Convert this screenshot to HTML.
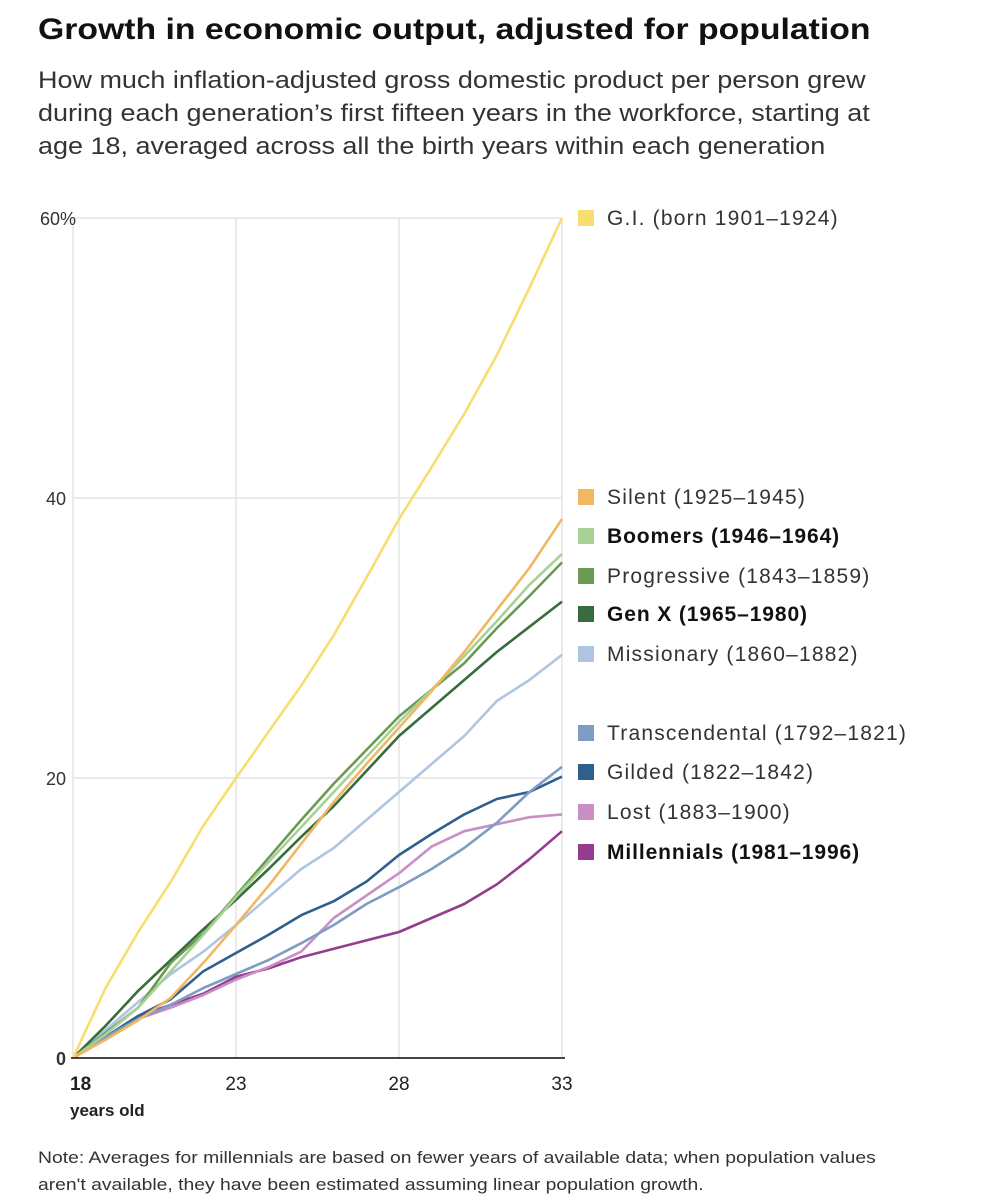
<!DOCTYPE html>
<html><head><meta charset="utf-8"><style>
body{margin:0;background:#fff;font-family:"Liberation Sans",sans-serif;color:#222;}
#wrap{position:relative;width:989px;height:1200px;overflow:hidden;}
h1{position:absolute;left:38px;top:13px;margin:0;font-size:30px;font-weight:bold;color:#111;transform:scaleX(1.125);transform-origin:left top;white-space:nowrap}
.sub{position:absolute;left:38px;top:64px;font-size:24px;line-height:33px;color:#333;white-space:nowrap;transform:scaleX(1.124);transform-origin:left top}
.note{position:absolute;left:38px;top:1144px;font-size:17px;line-height:27px;color:#333;white-space:nowrap;transform:scaleX(1.137);transform-origin:left top}
svg text{font-family:"Liberation Sans",sans-serif}
</style></head><body>
<div id="wrap">
<h1>Growth in economic output, adjusted for population</h1>
<div class="sub">How much inflation-adjusted gross domestic product per person grew<br>during each generation’s first fifteen years in the workforce, starting at<br>age 18, averaged across all the birth years within each generation</div>
<svg id="chart" width="989" height="1200" style="position:absolute;left:0;top:0"></svg>
<div class="note">Note: Averages for millennials are based on fewer years of available data; when population values<br>aren't available, they have been estimated assuming linear population growth.</div>
</div>
<script>
const ages=[18,19,20,21,22,23,24,25,26,27,28,29,30,31,32,33];
const yTicks=[0,20,40,60];
const xTicks=[18,23,28,33];
const names=["G.I. (born 1901–1924)","Silent (1925–1945)","Boomers (1946–1964)","Progressive (1843–1859)","Gen X (1965–1980)","Missionary (1860–1882)","Transcendental (1792–1821)","Gilded (1822–1842)","Lost (1883–1900)","Millennials (1981–1996)"];
const colors=["#f8de6e","#f0b862","#a8d196","#6b9b50","#386c3e","#afc5e1","#7e9cc4","#2f5f8d","#c98ec5","#943c8d"];
const bold=[false,false,true,false,true,false,false,false,false,true];
const legendY=[218,497,536,576,614,654,733,772,812,852];
const gi=[0,5,9,12.6,16.6,20,23.3,26.6,30.2,34.3,38.5,42.2,46,50.2,55,60];
const silent=[0,1.3,2.7,4.3,6.8,9.5,12.3,15.3,18.3,21,23.6,26.2,29,32,35,38.5];
const boomers=[0,1.7,3.6,6.2,8.8,11.5,14,16.5,19,21.5,24,26.3,28.7,31.2,33.8,36];
const progressive=[0,1.8,3.6,6.8,8.9,11.6,14.3,17,19.6,22,24.4,26.3,28.2,30.7,33,35.4];
const genx=[0,2.3,4.8,7,9.2,11.3,13.5,15.8,18,20.5,23,25,27,29,30.8,32.6];
const missionary=[0,2,4,6,7.6,9.5,11.5,13.5,15,17,19,21,23,25.5,27,28.8];
const transcendental=[0,1.5,2.8,3.8,5,6,7,8.2,9.5,11,12.2,13.5,15,16.8,19,20.8];
const gilded=[0,1.5,3,4.2,6.2,7.5,8.8,10.2,11.2,12.6,14.5,16,17.4,18.5,19,20.1];
const lost=[0,1.5,2.8,3.6,4.5,5.6,6.5,7.6,10,11.6,13.2,15.1,16.2,16.7,17.2,17.4];
const millennials=[0,1.5,3,3.8,4.6,5.8,6.4,7.2,7.8,8.4,9,10,11,12.4,14.2,16.2];
const series=[gi,silent,boomers,progressive,genx,missionary,transcendental,gilded,lost,millennials];
const keys=["gi","silent","boomers","progressive","genx","missionary","transcendental","gilded","lost","millennials"];
const X0=73,X1=562,Y0=1058,Y1=218;
const xs=a=>X0+(a-18)/15*(X1-X0);
const ys=v=>Y0-v/60*(Y0-Y1);
const svg=document.getElementById('chart');
const NS='http://www.w3.org/2000/svg';
function mk(t,at){const e=document.createElementNS(NS,t);for(const k in at)e.setAttribute(k,at[k]);svg.appendChild(e);return e;}
xTicks.forEach(t=>{if(t===18)return;const l=mk('line',{x1:xs(t),x2:xs(t),y1:Y1,y2:Y0,stroke:'#e4e4e4','stroke-width':1.5});

});
mk('line',{x1:X0,x2:X0,y1:Y1,y2:Y0,stroke:'#e4e4e4','stroke-width':1.5});
yTicks.forEach(t=>{if(t===0)return;const l=mk('line',{x1:X0,x2:X1,y1:ys(t),y2:ys(t),stroke:'#e4e4e4','stroke-width':1.5});

});
yTicks.forEach(t=>{const tx=mk('text',{x:t===60?40:66,y:ys(t)+7,'font-size':18,fill:'#333','text-anchor':t===60?'start':'end','font-weight':t===0?'bold':'normal'});tx.textContent=t===60?'60%':t;

});
xTicks.forEach(t=>{const tx=mk('text',{x:t===18?70:xs(t),y:1090,'font-size':19,fill:'#222','text-anchor':t===18?'start':'middle','font-weight':t===18?'bold':'normal'});tx.textContent=t;

});
const yo=mk('text',{x:70,y:1116,'font-size':17,'font-weight':'bold',fill:'#222'});yo.textContent='years old';


for(let i=series.length-1;i>=0;i--){const d=series[i].map((v,j)=>(j?'L':'M')+xs(ages[j]).toFixed(1)+','+ys(v).toFixed(1)).join('');
const p=mk('path',{d:d,fill:'none',stroke:colors[i],'stroke-width':2.6,'stroke-linejoin':'round'});

}
const base=mk('line',{x1:X0-2,x2:X1+3,y1:Y0,y2:Y0,stroke:'#444','stroke-width':2});


names.forEach((n,i)=>{const r=mk('rect',{x:578,y:legendY[i]-8,width:16,height:16,fill:colors[i]});


const t=mk('text',{x:607,y:legendY[i]+7,'font-size':21,fill:bold[i]?'#111':'#333','font-weight':bold[i]?'bold':'normal','letter-spacing':bold[i]?0.9:1.2});t.textContent=n;

});
</script>
</body></html>
